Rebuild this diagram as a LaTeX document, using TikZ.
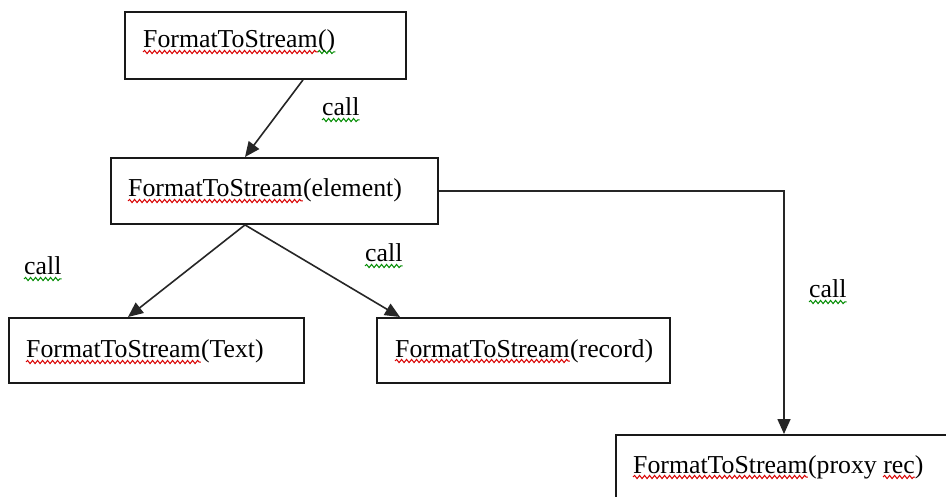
\documentclass[tikz,border=0pt]{standalone}
\usepackage{fontspec}
\setmainfont{Liberation Serif}
\usetikzlibrary{arrows.meta,decorations.pathmorphing}
\begin{document}
\begin{tikzpicture}[x=1pt,y=-1pt,
  box/.style={draw=black!90, line width=1.9pt, rectangle, anchor=north west, inner sep=0pt},
  txt/.style={anchor=base west, inner sep=0pt, font=\fontsize{25.8}{30}\selectfont},
  link/.style={draw=black!85, line width=1.6pt, -{Triangle[length=15pt,width=13pt]}},
  wave/.style={line width=1pt, decorate, decoration={snake, amplitude=1.6pt, segment length=5pt}},
  redwave/.style={wave, draw=red!85!black},
  greenwave/.style={wave, draw=green!55!black}]
\clip (0,0) rectangle (946,497);
\fill[white] (0,0) rectangle (946,497);

% boxes
\node[box, minimum width=281pt, minimum height=67pt] (b1) at (124,11) {};
\node[box, minimum width=327pt, minimum height=66pt] (b2) at (110,157) {};
\node[box, minimum width=295pt, minimum height=65pt] (b3) at (8,317) {};
\node[box, minimum width=293pt, minimum height=65pt] (b4) at (376,317) {};
\node[box, minimum width=360pt, minimum height=100pt] (b5) at (615,434) {};

% box labels
\node[txt] (t1a) at (143,48) {FormatToStream};
\node[txt] (t1b) at (t1a.base east) {()};
\node[txt] (t2a) at (128,197) {FormatToStream};
\node[txt] (t2b) at (t2a.base east) {(element)};
\node[txt] (t3a) at (26,358) {FormatToStream};
\node[txt] (t3b) at (t3a.base east) {(Text)};
\node[txt] (t4a) at (395,357) {FormatToStream};
\node[txt] (t4b) at (t4a.base east) {(record)};
\node[txt] (t5a) at (633,473) {FormatToStream};
\node[txt] (t5b) at (t5a.base east) {(proxy};
\node[txt] (t5c) at ([xshift=6pt]t5b.base east) {rec)};

% call labels
\node[txt] (c1) at (322,116) {call};
\node[txt] (c2) at (24,275) {call};
\node[txt] (c3) at (365,262) {call};
\node[txt] (c4) at (809,298) {call};

% spelling underlines
\foreach \w in {t1a,t2a,t3a,t4a,t5a}
  \draw[redwave] ([yshift=-4pt]\w.base west) -- ([yshift=-4pt]\w.base east);
\draw[redwave] ([yshift=-4pt]t5c.base west) -- ([yshift=-4pt,xshift=-8.5pt]t5c.base east);
\draw[greenwave] ([yshift=-4pt]t1b.base west) -- ([yshift=-4pt]t1b.base east);
\foreach \w in {c1,c2,c3,c4}
  \draw[greenwave] ([yshift=-4pt]\w.base west) -- ([yshift=-4pt]\w.base east);

% connectors
\draw[link] ([xshift=179pt]b1.south west) -- ([xshift=135pt]b2.north west);
\draw[link] ([xshift=135pt]b2.south west) -- ([xshift=120pt]b3.north west);
\draw[link] ([xshift=135pt]b2.south west) -- ([xshift=24pt]b4.north west);
\draw[link] (b2.east) -| ([xshift=169pt]b5.north west);
\end{tikzpicture}
\end{document}
